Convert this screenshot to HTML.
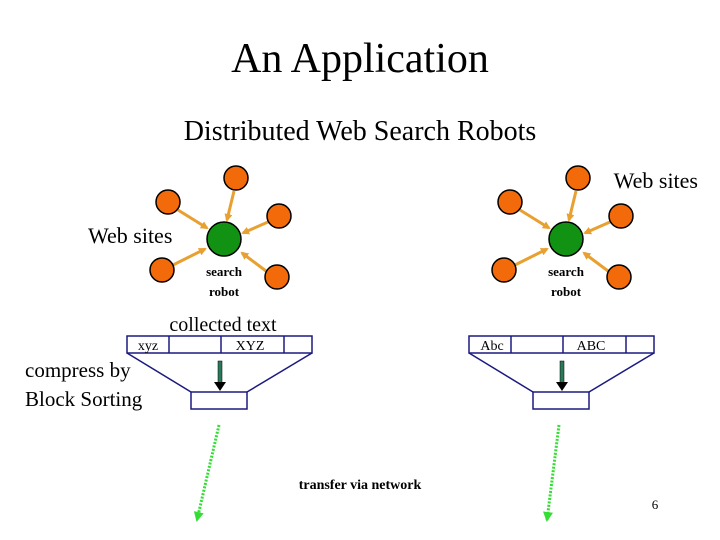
<!DOCTYPE html>
<html><head><style>body{margin:0;background:#fff}svg{display:block}</style></head><body>
<svg width="720" height="540" xmlns="http://www.w3.org/2000/svg" font-family="Liberation Serif, serif">
<defs>
<marker id="oa" markerWidth="8" markerHeight="8" refX="6" refY="4" orient="auto" markerUnits="userSpaceOnUse"><path d="M0,0 L8,4 L0,8 z" fill="#e8a030"/></marker>
<marker id="ga" markerWidth="10" markerHeight="10" refX="8" refY="5" orient="auto" markerUnits="userSpaceOnUse"><path d="M0,0 L10,5 L0,10 z" fill="#33dd33"/></marker>
</defs>
<text x="360" y="72" font-size="42" text-anchor="middle">An Application</text>
<text x="360" y="140" font-size="28" text-anchor="middle">Distributed Web Search Robots</text>
<text x="698" y="188" font-size="22" text-anchor="end">Web sites</text>
<text x="88" y="243" font-size="22">Web sites</text>
<text x="223" y="331" font-size="20" text-anchor="middle">collected text</text>
<text x="25" y="377" font-size="21">compress by</text>
<text x="25" y="406" font-size="21">Block Sorting</text>
<text x="360" y="489" font-size="14" font-weight="bold" text-anchor="middle">transfer via network</text>
<text x="655" y="509" font-size="13" text-anchor="middle">6</text>
<g id="c">
<g stroke="#e8a030" stroke-width="3" marker-end="url(#oa)">
<line x1="234" y1="191" x2="227" y2="220"/>
<line x1="178" y1="210" x2="207" y2="228"/>
<line x1="268" y1="222" x2="243" y2="233"/>
<line x1="173" y1="265" x2="205" y2="249"/>
<line x1="266" y1="271" x2="242" y2="253"/>
</g>
<g fill="#f26a0a" stroke="#000" stroke-width="1.5">
<circle cx="236" cy="178" r="12"/><circle cx="168" cy="202" r="12"/><circle cx="279" cy="216" r="12"/><circle cx="162" cy="270" r="12"/><circle cx="277" cy="277" r="12"/>
</g>
<circle cx="224" cy="239" r="17" fill="#129212" stroke="#000" stroke-width="1.5"/>
<text x="224" y="276" font-size="13" font-weight="bold" text-anchor="middle">search</text>
<text x="224" y="296" font-size="13" font-weight="bold" text-anchor="middle">robot</text>
<g fill="none" stroke="#1a1a80" stroke-width="1.5">
<rect x="127" y="336" width="185" height="17"/>
<line x1="169" y1="336" x2="169" y2="353"/><line x1="221" y1="336" x2="221" y2="353"/><line x1="284" y1="336" x2="284" y2="353"/>
<line x1="127" y1="353" x2="191" y2="392"/><line x1="312" y1="353" x2="247" y2="392"/>
<rect x="191" y="392" width="56" height="17"/>
</g>
<rect x="218" y="361" width="4" height="22" fill="#2a7a5a" stroke="#000" stroke-width="0.5"/>
<path d="M214,382 L226,382 L220,391 z" fill="#000"/>
</g>
<use href="#c" transform="translate(342,0)"/>
<text x="148" y="350" font-size="14" text-anchor="middle">xyz</text>
<text x="250" y="350" font-size="14" text-anchor="middle">XYZ</text>
<text x="492" y="350" font-size="14" text-anchor="middle">Abc</text>
<text x="591" y="350" font-size="14" text-anchor="middle">ABC</text>
<g stroke="#33dd33" stroke-width="3" stroke-dasharray="2,1.5" marker-end="url(#ga)">
<line x1="219" y1="425" x2="197" y2="520"/>
<line x1="559" y1="425" x2="547" y2="520"/>
</g>
</svg>
</body></html>
